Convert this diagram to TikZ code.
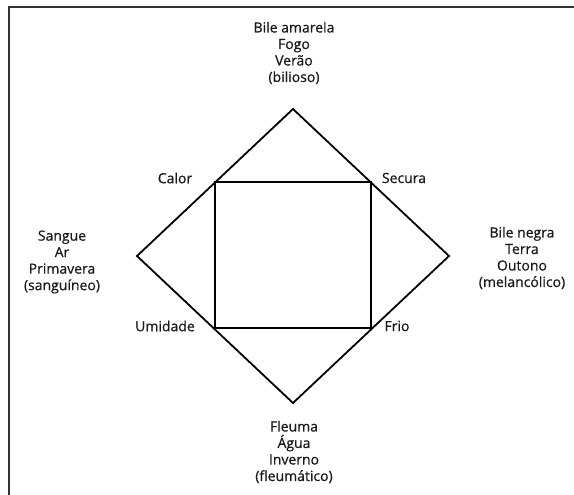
\documentclass[tikz,border=0pt]{standalone}
\usepackage{fontspec}
\setmainfont{Open Sans}
\newfontfamily\humorfont{Open Sans}[FakeBold=0.6]
\usetikzlibrary{positioning}

\begin{document}
\begin{tikzpicture}[x=1pt,y=-1pt]
        \useasboundingbox (0,0) rectangle (574,495);
        \draw[line width=1.2pt,black!80] (9,495) -- (9,7) -- (574,7);
        \begin{scope}[every node/.style={inner sep=0pt}]
          \coordinate (t) at (293,109);
          \coordinate (r) at (449,256);
          \coordinate (b) at (293,403);
          \coordinate (l) at (137,256);
          \coordinate (calor) at (215,182);
          \coordinate (secura) at (371,182);
          \coordinate (frio) at (371,328);
          \coordinate (umidade) at (215,328);
        \end{scope}
        \begin{scope}[every node/.style={align=center,text=black!90,font=\humorfont\fontsize{14}{16.5}\selectfont}]
          \node (fogo) at (294,53) {Bile amarela\\Fogo\\Verão\\(bilioso)};
          \node (ar) at (62,262) {Sangue\\Ar\\Primavera\\(sanguíneo)};
          \node (terra) at (522,258) {Bile negra\\Terra\\Outono\\(melancólico)};
          \node (agua) at (294,452) {Fleuma\\Água\\Inverno\\(fleumático)};
          \node (lcalor) at (175,178) {Calor};
          \node (lsecura) at (404,178) {Secura};
          \node (lumidade) at (165,326) {Umidade};
          \node (lfrio) at (397,326) {Frio};
        \end{scope}
        \draw[line width=1.8pt,line join=miter] (t) -- (r) -- (b) -- (l) -- cycle;
        \draw[line width=1.5pt] (calor) -- (secura) -- (frio) -- (umidade) -- cycle;
      \end{tikzpicture}
\end{document}
